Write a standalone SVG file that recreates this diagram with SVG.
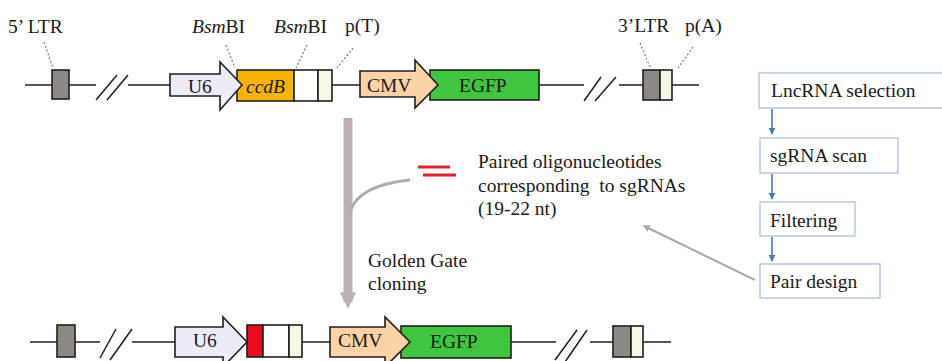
<svg xmlns="http://www.w3.org/2000/svg" width="942" height="361" viewBox="0 0 942 361">
  <defs>
    <style>
      text { font-family: "Liberation Serif", "Times New Roman", serif; font-size: 19.5px; fill: #1a1a1a; }
      .bb { stroke: #1f1f1f; stroke-width: 1.6; }
      .ln { stroke: #1f1f1f; stroke-width: 1.5; fill: none; }
      .lead { stroke: #777; stroke-width: 1.2; stroke-dasharray: 2 2; fill: none; }
      .ltr { fill: #8c8883; }
      .pa { fill: #f8f6e6; }
      .wb { fill: #ffffff; }
      .u6 { fill: #ececf6; }
      .cmv { fill: #fbd3a6; }
      .egfp { fill: #3fc53f; }
      .ccdb { fill: #f6b400; }
      .ins { fill: #ee0a1e; }
      .fbox { fill: #ffffff; stroke: #a9bde0; stroke-width: 1.3; }
      .flow { stroke: #4a76c0; stroke-width: 1.6; fill: none; }
      .it { font-style: italic; }
    </style>
    <marker id="blueHead" viewBox="0 0 10 10" refX="9" refY="5" markerWidth="4.5" markerHeight="4.5" orient="auto">
      <path d="M0,0 L10,5 L0,10 Z" fill="#4a76c0"/>
    </marker>
    <marker id="grayHead" viewBox="0 0 10 10" refX="8" refY="5" markerWidth="3.6" markerHeight="3.6" orient="auto">
      <path d="M0,0 L10,5 L0,10 Z" fill="#a8a8a8"/>
    </marker>
    <marker id="bigGrayHead" viewBox="0 0 10 10" refX="6" refY="5" markerWidth="1.8" markerHeight="1.8" orient="auto">
      <path d="M0,0 L10,5 L0,10 Z" fill="#bab1b0"/>
    </marker>
  </defs>

  <rect width="942" height="361" fill="#ffffff"/>

  <!-- vector before cloning -->
  <g id="vector-top">
    <line class="ln" x1="25" y1="85" x2="52" y2="85"/>
    <line class="ln" x1="69" y1="85" x2="96" y2="85"/>
    <line class="ln" x1="96" y1="100" x2="117" y2="75"/>
    <line class="ln" x1="107" y1="100" x2="128" y2="75"/>
    <line class="ln" x1="128" y1="85" x2="170" y2="85"/>
    <line class="ln" x1="332" y1="85" x2="360" y2="85"/>
    <line class="ln" x1="539" y1="85" x2="584" y2="85"/>
    <line class="ln" x1="584" y1="101" x2="601" y2="77"/>
    <line class="ln" x1="595" y1="101" x2="616" y2="77"/>
    <line class="ln" x1="619" y1="85" x2="643" y2="85"/>
    <line class="ln" x1="672" y1="85" x2="699" y2="85"/>

    <rect class="ltr bb" x="52" y="70" width="17" height="29"/>
    <rect class="ccdb bb" x="237" y="70" width="57" height="31"/>
    <rect class="wb bb" x="294" y="70" width="24" height="31"/>
    <rect class="pa bb" x="318" y="70" width="14" height="31"/>
    <polygon class="u6 bb" points="170,74 220,74 220,62 242,85 220,110 220,96 170,96"/>
    <rect class="egfp bb" x="430" y="70" width="109" height="30"/>
    <polygon class="cmv bb" points="360,71 415,71 415,60 438,85 415,108 415,97 360,97"/>
    <rect class="ltr bb" x="643" y="70" width="17" height="30"/>
    <rect class="pa bb" x="660" y="70" width="12" height="30"/>

    <text x="188" y="93">U6</text>
    <text class="it" x="246" y="93">ccdB</text>
    <text x="367" y="92">CMV</text>
    <text x="459" y="92">EGFP</text>

    <line class="lead" x1="44" y1="42" x2="53" y2="68"/>
    <line class="lead" x1="226" y1="45" x2="235" y2="68"/>
    <line class="lead" x1="307" y1="45" x2="296" y2="68"/>
    <line class="lead" x1="353" y1="48" x2="337" y2="68"/>
    <line class="lead" x1="640" y1="43" x2="650" y2="67"/>
    <line class="lead" x1="693" y1="47" x2="678" y2="68"/>

    <text x="8" y="33">5’ LTR</text>
    <text x="192" y="33"><tspan class="it">Bsm</tspan>BI</text>
    <text x="274" y="33"><tspan class="it">Bsm</tspan>BI</text>
    <text x="345" y="32">p(T)</text>
    <text x="618" y="32">3’LTR</text>
    <text x="685" y="32">p(A)</text>
  </g>

  <!-- cloned vector -->
  <g id="vector-bottom">
    <line class="ln" x1="30" y1="342" x2="57" y2="342"/>
    <line class="ln" x1="75" y1="342" x2="100" y2="342"/>
    <line class="ln" x1="100" y1="358" x2="116" y2="329"/>
    <line class="ln" x1="110" y1="360" x2="132" y2="329"/>
    <line class="ln" x1="132" y1="342" x2="175" y2="342"/>
    <line class="ln" x1="302" y1="342" x2="330" y2="342"/>
    <line class="ln" x1="511" y1="342" x2="556" y2="342"/>
    <line class="ln" x1="555" y1="360" x2="577" y2="330"/>
    <line class="ln" x1="565" y1="362" x2="587" y2="330"/>
    <line class="ln" x1="590" y1="342" x2="613" y2="342"/>
    <line class="ln" x1="643" y1="342" x2="671" y2="342"/>

    <rect class="ltr bb" x="57" y="325" width="18" height="32"/>
    <rect class="ins bb" x="247" y="325" width="16" height="32"/>
    <rect class="wb bb" x="263" y="325" width="26" height="32"/>
    <rect class="pa bb" x="289" y="325" width="13" height="32"/>
    <polygon class="u6 bb" points="175,327 223,327 223,317 247,342 223,367 223,357 175,357"/>
    <rect class="egfp bb" x="401" y="326" width="110" height="32"/>
    <polygon class="cmv bb" points="330,327 385,327 385,317 410,342 385,367 385,357 330,357"/>
    <rect class="ltr bb" x="613" y="326" width="18" height="31"/>
    <rect class="pa bb" x="631" y="326" width="12" height="31"/>

    <text x="193" y="347">U6</text>
    <text x="338" y="347">CMV</text>
    <text x="430" y="348">EGFP</text>
  </g>

  <!-- oligo pair -->
  <g id="oligos">
    <line x1="418" y1="167" x2="450" y2="167" stroke="#ec1c2c" stroke-width="3"/>
    <line x1="423" y1="175" x2="456" y2="175" stroke="#ec1c2c" stroke-width="3"/>
    <text x="478" y="168">Paired oligonucleotides</text>
    <text x="478" y="192" xml:space="preserve">corresponding  to sgRNAs</text>
    <text x="478" y="215">(19-22 nt)</text>
  </g>

  <!-- design pipeline -->
  <g id="step-selection">
    <rect class="fbox" x="759" y="73" width="190" height="35"/>
    <text x="771" y="97">LncRNA selection</text>
  </g>
  <g id="step-scan">
    <rect class="fbox" x="760" y="138" width="138" height="35"/>
    <text x="770" y="162">sgRNA scan</text>
  </g>
  <g id="step-filter">
    <rect class="fbox" x="760" y="202" width="95" height="34"/>
    <text x="770" y="227">Filtering</text>
  </g>
  <g id="step-pair">
    <rect class="fbox" x="760" y="264" width="120" height="34"/>
    <text x="770" y="288">Pair design</text>
  </g>

  <g id="connectors">
    <line class="flow" x1="772" y1="109" x2="772" y2="134" marker-end="url(#blueHead)"/>
    <line class="flow" x1="772" y1="174" x2="772" y2="199" marker-end="url(#blueHead)"/>
    <line class="flow" x1="772" y1="237" x2="772" y2="261" marker-end="url(#blueHead)"/>
    <line x1="755" y1="280" x2="644" y2="226" stroke="#a8a8a8" stroke-width="2" marker-end="url(#grayHead)"/>
    <line x1="348" y1="118" x2="348" y2="302" stroke="#bab1b0" stroke-width="9" marker-end="url(#bigGrayHead)"/>
    <path d="M350,212 C356,192 380,183 410,180" stroke="#b3aaaa" stroke-width="3" fill="none"/>
    <text x="368" y="267">Golden Gate</text>
    <text x="368" y="290">cloning</text>
  </g>
</svg>
